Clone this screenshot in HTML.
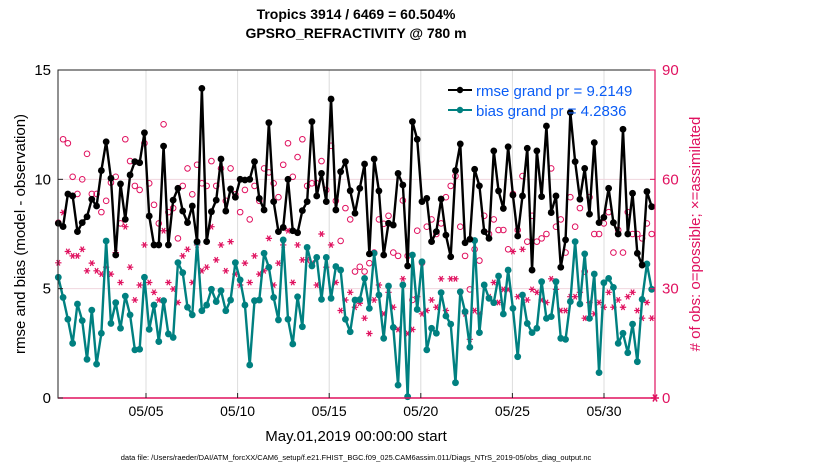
<!DOCTYPE html>
<html><head><meta charset="utf-8">
<style>
body{margin:0;background:#fff;width:830px;height:470px;overflow:hidden;font-family:"Liberation Sans",sans-serif;}
svg text{font-family:"Liberation Sans",sans-serif;}
</style></head>
<body>
<svg id="chart" width="830" height="470" xmlns="http://www.w3.org/2000/svg">
<text x="356" y="19" text-anchor="middle" font-size="14" font-weight="bold">Tropics 3914 / 6469 = 60.504%</text>
<text x="356" y="38" text-anchor="middle" font-size="14" font-weight="bold">GPSRO_REFRACTIVITY @ 780 m</text>
<g id="grid"></g>
<g id="marks"></g>
<rect x="58" y="70" width="597" height="328" fill="none" stroke="#222" stroke-width="1"/>
<line x1="655" y1="70" x2="655" y2="398" stroke="#e0115f" stroke-width="1.2"/>
<line x1="58" y1="398" x2="655" y2="398" stroke="#e0115f" stroke-width="1.5"/>
<g id="axes"></g>
<text transform="translate(25,234) rotate(-90)" text-anchor="middle" font-size="15">rmse and bias (model - observation)</text>
<text transform="translate(700,234) rotate(-90)" text-anchor="middle" font-size="15" fill="#e0115f"># of obs: o=possible; ×=assimilated</text>
<text x="356" y="441" text-anchor="middle" font-size="15">May.01,2019 00:00:00 start</text>
<text x="356" y="460" text-anchor="middle" font-size="7.5">data file: /Users/raeder/DAI/ATM_forcXX/CAM6_setup/f.e21.FHIST_BGC.f09_025.CAM6assim.011/Diags_NTrS_2019-05/obs_diag_output.nc</text>
<g>
<line x1="448" y1="90" x2="472" y2="90" stroke="#000" stroke-width="2"/>
<circle cx="460" cy="90" r="3.2" fill="#000"/>
<text x="476" y="96" font-size="15" fill="#0a5cf5">rmse grand pr = 9.2149</text>
<line x1="448" y1="110" x2="472" y2="110" stroke="#008080" stroke-width="2"/>
<circle cx="460" cy="110" r="3.2" fill="#008080"/>
<text x="476" y="116" font-size="15" fill="#0a5cf5">bias grand pr = 4.2836</text>
</g>
</svg>
<script>
const rmse=[7.99,7.84,9.33,9.24,7.61,8.02,8.29,9.09,8.78,10.40,11.72,10.05,6.54,9.79,8.17,10.20,10.81,10.76,12.13,8.32,7.00,7.00,11.52,7.00,9.05,9.59,8.55,8.02,8.78,7.15,14.16,7.15,
8.52,9.05,10.93,8.55,9.56,9.18,10.0,9.97,10.0,10.81,9.13,8.60,12.59,8.98,7.61,7.80,10.0,7.65,7.56,8.57,8.98,12.64,9.24,10.27,8.98,13.67,8.60,10.35,10.81,9.48,8.45,9.59,
10.70,6.59,10.93,9.47,6.54,7.99,7.91,10.27,9.74,6.04,12.64,11.83,8.98,9.13,7.15,7.61,9.10,7.45,6.46,10.40,11.62,7.10,7.26,10.46,9.70,7.61,7.30,11.30,9.47,8.67,11.49,
9.28,7.41,9.24,11.42,5.85,11.30,9.21,12.44,8.48,9.24,5.98,7.23,13.06,10.81,9.09,10.50,8.41,11.68,8.02,8.26,9.59,8.02,7.50,12.29,7.50,9.36,6.62,6.08,9.44,8.75];
const bias=[5.52,4.60,3.60,2.50,4.30,3.54,1.77,4.02,1.55,2.96,7.18,3.41,4.36,3.19,4.66,3.80,2.20,2.23,5.52,3.14,4.25,2.58,4.45,2.93,2.77,6.19,5.73,4.15,3.80,7.12,3.99,4.25,
4.97,4.41,4.91,3.99,4.48,6.19,5.40,4.25,1.51,4.45,4.48,6.62,5.98,4.60,3.57,7.23,3.60,2.47,4.63,3.26,6.89,6.04,6.43,4.51,6.43,4.56,6.01,5.85,3.60,3.03,4.48,4.50,
5.47,4.10,6.62,4.71,2.73,5.12,3.23,0.59,5.17,0.06,6.54,4.05,6.23,2.20,3.19,2.96,4.82,3.75,3.38,0.70,4.86,3.95,2.32,7.20,2.99,5.17,4.56,4.36,5.58,3.84,5.85,
4.10,1.89,4.71,3.41,2.99,3.19,5.32,3.64,3.72,5.32,2.73,2.68,4.41,7.15,4.30,6.59,3.64,5.67,1.16,5.27,5.47,5.06,2.50,2.96,2.07,3.38,1.66,4.51,6.13,4.97];
const nPossible=[48.1,71.0,69.9,60.7,56.0,60.0,67.0,56.0,56.0,51.0,54.1,59.1,60.7,47.9,71.0,65.0,58.2,57.1,69.9,58.9,53.0,47.9,75.1,51.0,52.1,43.8,58.2,63.0,55.9,64.0,58.9,58.2,
65.0,58.2,63.0,54.1,63.0,55.9,51.0,57.1,49.0,58.2,54.1,63.0,61.9,58.9,55.1,64.0,69.9,60.7,66.1,71.0,58.2,58.9,58.9,65.0,57.1,69.2,54.1,43.1,52.1,49.0,34.7,36.0,
34.7,37.0,39.9,49.0,47.8,50.0,39.9,39.0,54.2,39.0,26.9,45.9,37.1,47.0,49.0,45.0,47.9,55.1,58.2,60.9,47.0,39.0,29.8,40.8,37.7,50.0,45.0,49.0,46.1,46.1,40.8,
56.0,46.1,60.9,42.9,50.0,42.9,43.8,45.0,63.0,47.0,49.0,39.9,55.1,47.0,52.1,34.7,55.1,45.0,45.0,47.9,51.0,39.9,46.1,39.9,51.0,45.0,45.0,43.8,47.9,45.0];
const nAssim=[37.1,50.9,40.2,39.0,39.0,40.8,34.9,37.0,34.9,34.0,35.9,34.0,39.9,31.7,47.0,35.9,26.9,31.0,42.0,31.7,29.0,26.9,45.9,31.7,29.9,26.2,39.0,40.8,31.7,42.0,34.9,35.9,
47.0,37.9,42.0,34.9,42.9,34.0,31.0,37.0,31.7,39.0,34.0,34.9,43.8,31.0,37.0,42.0,45.9,31.7,42.0,37.9,37.9,37.0,31.0,45.0,35.9,42.0,31.7,24.0,26.9,29.0,24.9,26.0,
21.9,17.7,26.9,31.0,23.1,29.0,24.9,18.8,32.7,17.7,18.8,27.8,23.1,24.0,26.9,24.9,32.7,24.0,32.7,32.7,29.0,23.1,16.1,24.0,23.1,31.0,27.8,31.7,26.2,29.8,29.8,
40.2,27.8,40.8,26.9,29.8,29.0,26.9,26.2,32.7,29.8,24.0,24.0,27.8,27.8,29.0,21.9,26.2,23.1,26.2,24.9,29.0,24.9,26.9,24.9,27.8,29.0,24.0,21.9,26.2,21.9];
const leftTicks=[0,5,10,15];
const rightTicks=[0,30,60,90];
const dateTickDays=[5,10,15,20,25,30];
const dateTickLabels=["05/05","05/10","05/15","05/20","05/25","05/30"];

const NS="http://www.w3.org/2000/svg";
const X0=58,X1=655,Y0=398,Y1=70;
function xIdx(i){return 58.3+i*(651.7-58.3)/(rmse.length-1);}
function xDay(d){return 146+(d-5)*18.32;}
function yL(v){return Y0-(v/15)*(Y0-Y1);}
function yR(v){return Y0-(v/90)*(Y0-Y1);}
function mk(tag,attrs,parent){const e=document.createElementNS(NS,tag);for(const k in attrs)e.setAttribute(k,attrs[k]);parent.appendChild(e);return e;}
const grid=document.getElementById('grid'),marks=document.getElementById('marks'),axes=document.getElementById('axes');

dateTickDays.forEach((d,i)=>{
  const x=xDay(d);
  const g=mk('line',{x1:x,y1:Y1,x2:x,y2:Y0,stroke:'#dcdcdc','stroke-width':1},grid);
  
  
  const t=mk('line',{x1:x,y1:Y0,x2:x,y2:Y0-5,stroke:'#222','stroke-width':1},axes);
  
  
  const l=mk('text',{x:x,y:416,'text-anchor':'middle','font-size':14},axes);
  l.textContent=dateTickLabels[i];
  
  
});
leftTicks.forEach(v=>{
  const y=yL(v);
  if(v>0&&v<15){const g=mk('line',{x1:X0,y1:y,x2:X1,y2:y,stroke:'#f0d6de','stroke-width':1},grid);
  
  }
  const t=mk('line',{x1:X0,y1:y,x2:X0+5,y2:y,stroke:'#222'},axes);
  
  
  const l=mk('text',{x:51,y:y+5,'text-anchor':'end','font-size':15},axes);
  l.textContent=v;
  
  
});
rightTicks.forEach(v=>{
  const y=yR(v);
  const t=mk('line',{x1:X1,y1:y,x2:X1-5,y2:y,stroke:'#e0115f'},axes);
  
  
  const l=mk('text',{x:662,y:y+5,'text-anchor':'start','font-size':15,fill:'#e0115f'},axes);
  l.textContent=v;
  
  
});

nPossible.forEach((v,i)=>{
  const c=mk('circle',{cx:xIdx(i),cy:yR(v),r:2.8,fill:'none',stroke:'#e0115f','stroke-width':1},marks);
  
  
});
nAssim.forEach((v,i)=>{
  const x=xIdx(i),y=yR(v),s=3.2;
  const p=mk('path',{d:`M${x-s},${y}H${x+s}M${x-s*0.5},${y-s*0.87}L${x+s*0.5},${y+s*0.87}M${x+s*0.5},${y-s*0.87}L${x-s*0.5},${y+s*0.87}`,stroke:'#e0115f','stroke-width':1.2},marks);
  
  
});
function series(vals,color,name){
  const pl=mk('polyline',{points:vals.map((v,i)=>xIdx(i)+','+yL(v)).join(' '),fill:'none',stroke:color,'stroke-width':2.4,'stroke-linejoin':'round'},marks);
  
  
  vals.forEach((v,i)=>{
    const c=mk('circle',{cx:xIdx(i),cy:yL(v),r:3.4,fill:color},marks);
    
    
  });
}
series(bias,'#008080','bias');
series(rmse,'#000000','rmse');
const m=mk('path',{d:'M651,398H659M653,394.5L657,401.5M657,394.5L653,401.5',stroke:'#e0115f','stroke-width':1.5},axes);


</script>
</body></html>
